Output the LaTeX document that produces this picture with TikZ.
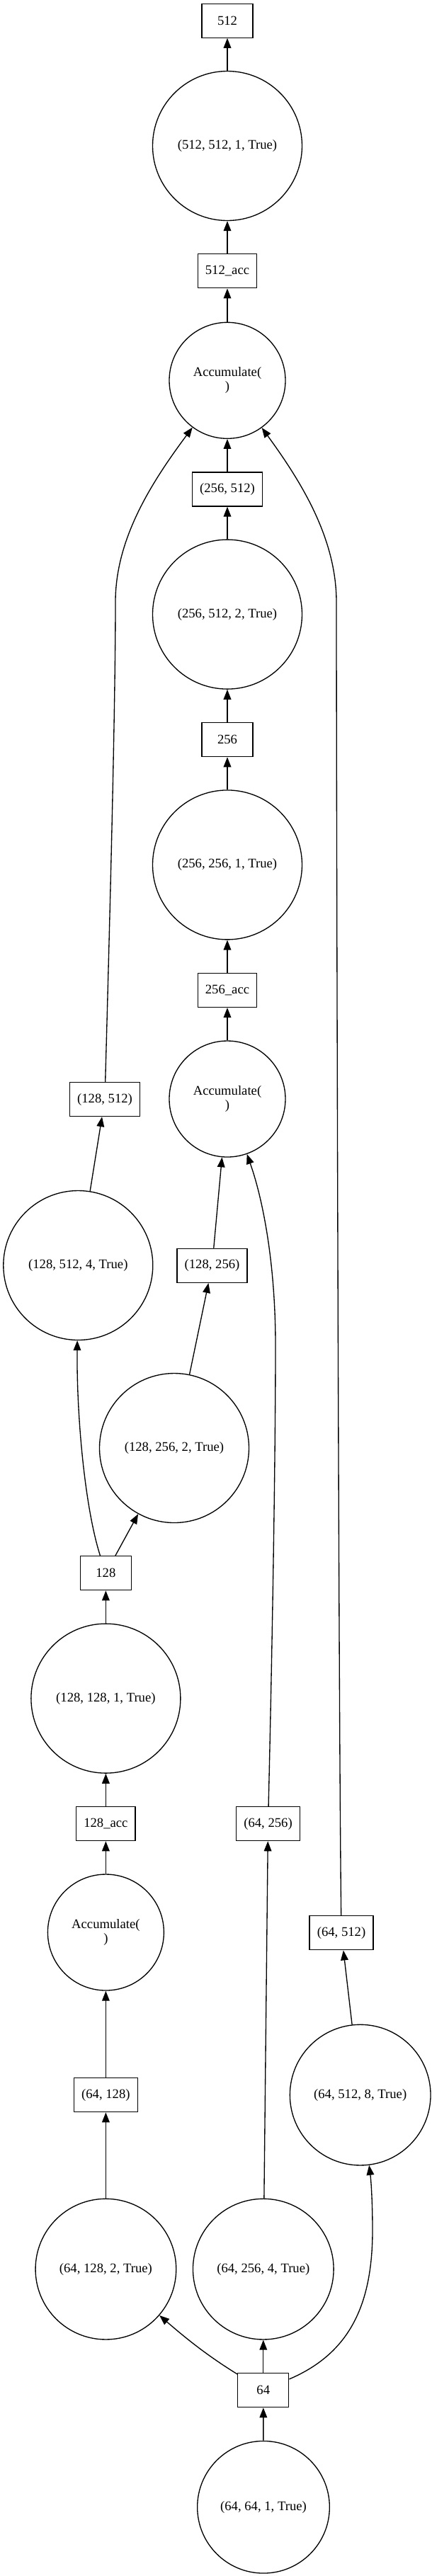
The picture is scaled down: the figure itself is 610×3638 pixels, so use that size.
\documentclass[tikz,border=0pt]{standalone}
\usepackage{fontspec}
\setmainfont{Liberation Serif}
\usetikzlibrary{arrows.meta}
\begin{document}
\begin{tikzpicture}[x=0.75pt,y=-0.75pt,
  every node/.style={font=\fontsize{14}{15}\selectfont, line width=1pt, draw, inner sep=0pt},
  bx/.style={rectangle, minimum width=54pt, minimum height=36pt, inner xsep=8pt},
  cl/.style={circle, minimum size=#1},
  arr/.style={-{Triangle[length=10.5pt,width=8pt]}, line width=1pt}]
\fill[white] (0,0) rectangle (610,3638);
\useasboundingbox (0,0) rectangle (610,3638);
\node[bx] (n512) at (321,29.2) {512};
\node[cl=158.25pt] (c512) at (321,206) {(512, 512, 1, True)};
\node[bx] (n512acc) at (321,382.8) {512\_acc};
\node[cl=123pt, align=center] (acc1) at (321,537.3) {Accumulate(\\)};
\node[bx] (n256512) at (321,691) {(256, 512)};
\node[cl=158.25pt] (c256512) at (321,867.6) {(256, 512, 2, True)};
\node[bx] (n256) at (321,1044.6) {256};
\node[cl=158.25pt] (c256256) at (321,1221.4) {(256, 256, 1, True)};
\node[bx] (n256acc) at (321,1398.4) {256\_acc};
\node[cl=123pt, align=center] (acc2) at (321,1552) {Accumulate(\\)};
\node[bx] (n128512) at (148,1552.5) {(128, 512)};
\node[cl=158.25pt] (c128512) at (110.3,1787) {(128, 512, 4, True)};
\node[bx] (n128256) at (299.5,1787.3) {(128, 256)};
\node[cl=158.25pt] (c128256) at (246,2045) {(128, 256, 2, True)};
\node[bx] (n128) at (149.4,2221.7) {128};
\node[cl=158.25pt] (c128128) at (149.4,2398.6) {(128, 128, 1, True)};
\node[bx] (n128acc) at (149.4,2575.6) {128\_acc};
\node[bx] (n64256) at (378.5,2575.6) {(64, 256)};
\node[cl=123pt, align=center] (acc3) at (149.4,2729) {Accumulate(\\)};
\node[bx] (n64512) at (482,2729.7) {(64, 512)};
\node[bx] (n64128) at (149.4,2958.6) {(64, 128)};
\node[cl=149pt] (c64512) at (508.7,2958.6) {(64, 512, 8, True)};
\node[cl=149pt] (c64128) at (149.4,3204.6) {(64, 128, 2, True)};
\node[cl=149pt] (c64256) at (371.8,3204.6) {(64, 256, 4, True)};
\node[bx] (n64) at (371.8,3375.6) {64};
\node[cl=140pt] (c6464) at (372,3540.7) {(64, 64, 1, True)};

\draw[arr] (c6464) -- (n64);
\draw[arr] (n64) .. controls (290,3325) and (260,3300) .. (c64128);
\draw[arr] (n64) -- (c64256);
\draw[arr] (n64) .. controls (490,3325) and (526,3260) .. (526,3150) .. controls (526,3110) and (524,3080) .. (c64512);
\draw[arr] (c64128) -- (n64128);
\draw[arr] (n64128) -- (acc3);
\draw[arr] (acc3) -- (n128acc);
\draw[arr] (n128acc) -- (c128128);
\draw[arr] (c128128) -- (n128);
\draw[arr] (n128) -- (c128256);
\draw[arr] (n128) .. controls (120,2130) and (108,2000) .. (c128512);
\draw[arr] (c128256) -- (n128256);
\draw[arr] (n128256) -- (acc2);
\draw[arr] (c64256) -- (n64256);
\draw[arr] (n64256) .. controls (385,2300) and (389,2050) .. (389,1900) .. controls (389,1780) and (370,1690) .. (acc2);
\draw[arr] (c64512) -- (n64512);
\draw[arr] (c128512) -- (n128512);
\draw[arr] (n128512) .. controls (155,1300) and (163,1000) .. (163,850) .. controls (163,760) and (215,680) .. (acc1);
\draw[arr] (n64512) .. controls (478,2400) and (475,1100) .. (475,850) .. controls (475,760) and (425,680) .. (acc1);
\draw[arr] (acc2) -- (n256acc);
\draw[arr] (n256acc) -- (c256256);
\draw[arr] (c256256) -- (n256);
\draw[arr] (n256) -- (c256512);
\draw[arr] (c256512) -- (n256512);
\draw[arr] (n256512) -- (acc1);
\draw[arr] (acc1) -- (n512acc);
\draw[arr] (n512acc) -- (c512);
\draw[arr] (c512) -- (n512);
\end{tikzpicture}
\end{document}
